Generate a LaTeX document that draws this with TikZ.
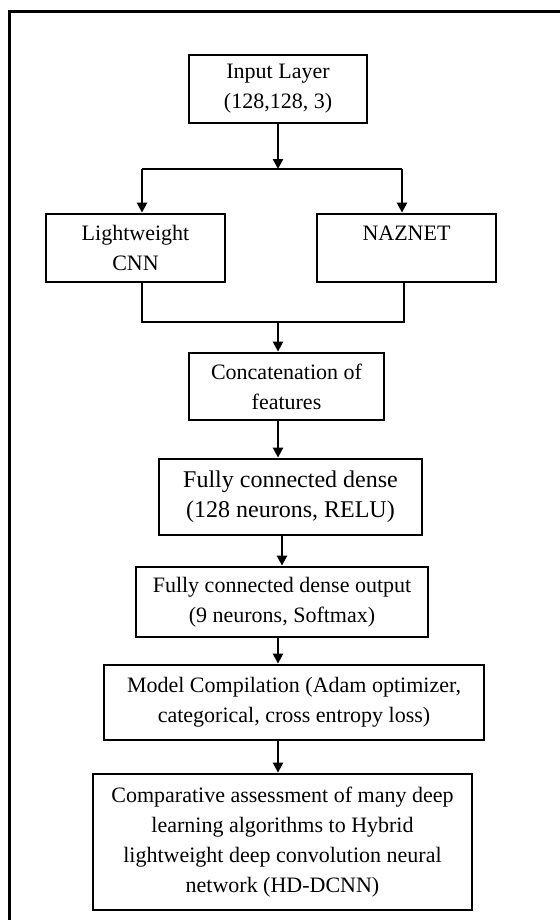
\documentclass[tikz,border=0pt]{standalone}
\usepackage{fontspec}
\setmainfont{Liberation Serif}
\usetikzlibrary{arrows.meta}

\begin{document}
\begin{tikzpicture}[x=0.5pt,y=-0.5pt,
    block/.style={draw,line width=1.4pt,align=center,inner sep=0pt,font=\fontsize{11}{15}\selectfont},
    flow/.style={line width=1.2pt,-{Triangle[length=5pt,width=5pt]}},
    link/.style={line width=1.2pt}]

    \useasboundingbox (0,0) rectangle (559,920);
    \draw[line width=1.5pt] (9,12) rectangle (580,940);

    \node[block,minimum width=89pt,minimum height=34pt]   (inp)    at (278,89)    {Input Layer\\(128,128, 3)};
    \node[block,minimum width=89.5pt,minimum height=34pt] (lcnn)   at (135.5,248) {Lightweight\\CNN};
    \node[block,minimum width=89.5pt,minimum height=34pt] (naz)    at (406.5,248) {NAZNET\\~};
    \node[block,minimum width=97.5pt,minimum height=33.5pt] (concat) at (286.5,386.5) {Concatenation of\\features};
    \node[block,minimum width=131.5pt,minimum height=38pt,font=\fontsize{12}{15}\selectfont] (dense) at (290.5,497) {Fully connected dense\\(128 neurons, RELU)};
    \node[block,minimum width=146pt,minimum height=35pt]  (out)    at (282,602)   {Fully connected dense output\\(9 neurons, Softmax)};
    \node[block,minimum width=190pt,minimum height=37.5pt] (comp)  at (294,702.5) {Model Compilation (Adam optimizer,\\categorical, cross entropy loss)};
    \node[block,minimum width=189.5pt,minimum height=68pt] (assess) at (282.5,842) {Comparative assessment of many deep\\learning algorithms to Hybrid\\lightweight deep convolution neural\\network (HD-DCNN)};

    \coordinate (split) at (278,169);
    \coordinate (sl) at (142,169);
    \coordinate (sr) at (402,169);
    \coordinate (ml) at (142,322);
    \coordinate (mr) at (404,322);
    \coordinate (mc) at (278,322);

    \draw[flow] (inp) -- (split);
    \draw[link] (sl) -- (sr);
    \draw[flow] (sl) -- (sl |- lcnn.north);
    \draw[flow] (sr) -- (sr |- naz.north);
    \draw[link] (ml |- lcnn.south) -- (ml) -- (mr) -- (mr |- naz.south);
    \draw[flow] (mc) -- (mc |- concat.north);
    \draw[flow] (concat.south -| mc) -- (dense.north -| mc);
    \draw[flow] (dense.south -| out) -- (out.north);
    \draw[flow] (out.south -| mc) -- (comp.north -| mc);
    \draw[flow] (comp.south -| mc) -- (assess.north -| mc);
\end{tikzpicture}
\end{document}
